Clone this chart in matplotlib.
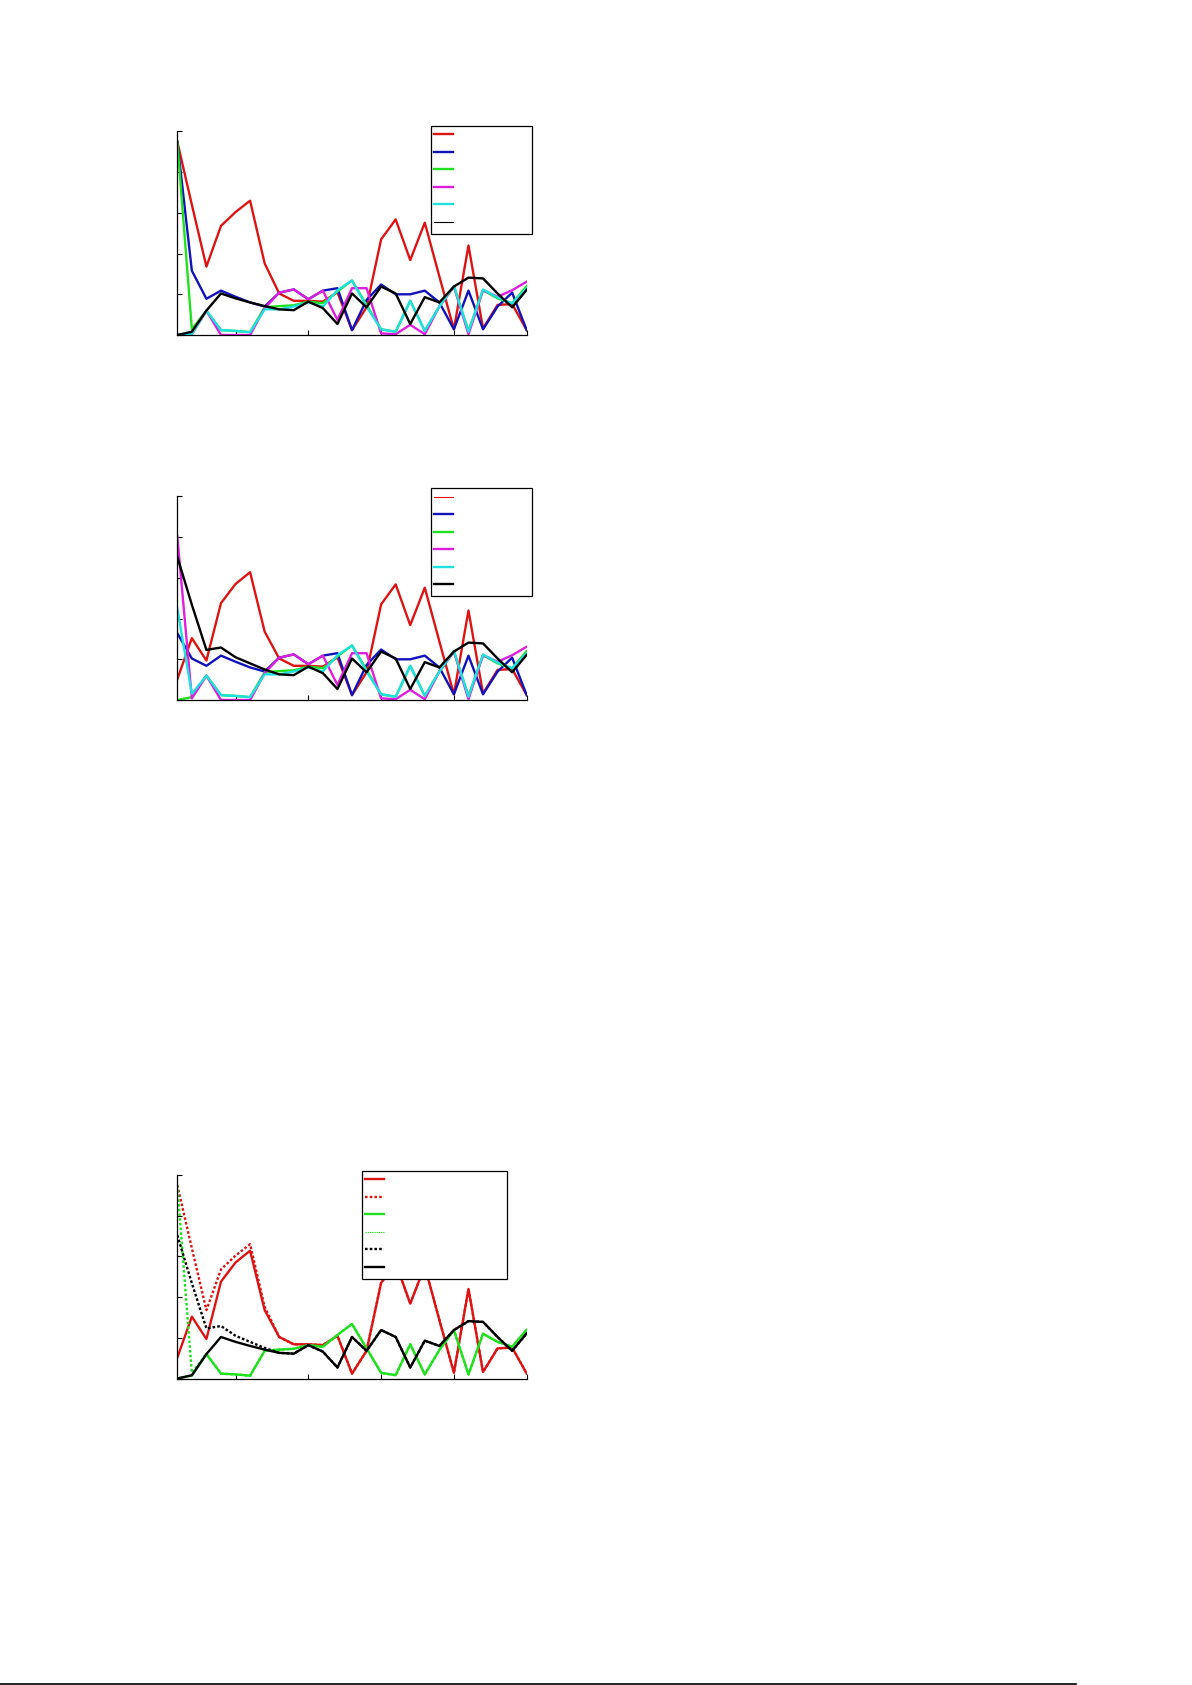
import numpy as np
import matplotlib
matplotlib.use("Agg")
import matplotlib.pyplot as plt
from matplotlib.lines import Line2D

x = np.arange(1, 26)

# panel 1 series
red_a = [4.75, 3.20, 1.68, 2.68, 3.02, 3.30, 1.76, 1.02, 0.84, 0.84, 0.82, 1.05, 0.12,
         0.68, 2.35, 2.84, 1.84, 2.76, 1.44, 0.14, 2.20, 0.16, 0.74, 0.76, 0.12]
blue_a = [4.75, 1.58, 0.89, 1.09, 0.94, 0.80, 0.70, 1.04, 1.12, 0.88, 1.09, 1.15, 0.12,
          0.86, 1.24, 1.00, 1.00, 1.09, 0.80, 0.14, 1.09, 0.14, 0.70, 1.04, 0.12]
green_a = [4.75, 0.14, 0.60, 0.12, 0.10, 0.07, 0.68, 0.71, 0.73, 0.82, 0.78, 1.07, 1.34,
           0.74, 0.14, 0.08, 0.84, 0.10, 0.70, 1.19, 0.10, 1.10, 0.90, 0.78, 1.20]
magenta_a = [0.00, 0.02, 0.60, 0.00, 0.00, 0.00, 0.66, 1.04, 1.12, 0.88, 1.09, 0.37, 1.15,
             1.15, 0.04, 0.02, 0.25, 0.02, 0.70, 1.19, 0.02, 1.10, 0.94, 1.10, 1.31]
cyan_a = [0.00, 0.02, 0.60, 0.12, 0.10, 0.07, 0.63, 0.63, 0.70, 0.80, 0.70, 1.10, 1.34,
          0.70, 0.14, 0.08, 0.84, 0.10, 0.70, 1.21, 0.08, 1.12, 0.92, 0.78, 1.15]
black_a = [0.00, 0.08, 0.60, 1.02, 0.90, 0.80, 0.71, 0.63, 0.61, 0.82, 0.66, 0.27, 1.02,
           0.68, 1.19, 1.02, 0.27, 0.93, 0.80, 1.19, 1.41, 1.39, 1.02, 0.68, 1.11]

# panel 2 series
red_b = [0.51, 1.52, 0.97, 2.38, 2.85, 3.14, 1.68, 1.02, 0.84, 0.84, 0.82, 1.05, 0.12,
         0.68, 2.35, 2.84, 1.84, 2.76, 1.44, 0.14, 2.20, 0.16, 0.74, 0.76, 0.12]
blue_b = [1.64, 1.02, 0.84, 1.09, 0.94, 0.80, 0.70, 1.04, 1.12, 0.88, 1.09, 1.15, 0.12,
          0.86, 1.24, 1.00, 1.00, 1.09, 0.80, 0.14, 1.09, 0.14, 0.70, 1.04, 0.12]
green_b = [0.00, 0.07, 0.60, 0.12, 0.10, 0.07, 0.68, 0.71, 0.73, 0.82, 0.78, 1.07, 1.34,
           0.74, 0.14, 0.08, 0.84, 0.10, 0.70, 1.19, 0.10, 1.10, 0.90, 0.78, 1.20]
magenta_b = [4.02, 0.04, 0.60, 0.00, 0.00, 0.00, 0.66, 1.04, 1.12, 0.88, 1.09, 0.37, 1.15,
             1.15, 0.04, 0.02, 0.25, 0.02, 0.70, 1.19, 0.02, 1.10, 0.94, 1.10, 1.31]
cyan_b = [2.25, 0.15, 0.60, 0.12, 0.10, 0.07, 0.63, 0.63, 0.70, 0.80, 0.70, 1.10, 1.34,
          0.70, 0.14, 0.08, 0.84, 0.10, 0.70, 1.21, 0.08, 1.12, 0.92, 0.78, 1.15]
black_b = [3.52, 2.34, 1.23, 1.29, 1.05, 0.90, 0.75, 0.63, 0.61, 0.82, 0.66, 0.27, 1.02,
           0.68, 1.19, 1.02, 0.27, 0.93, 0.80, 1.19, 1.41, 1.39, 1.02, 0.68, 1.11]

RED = "#dd1414"
BLUE = "#1212bb"
GREEN = "#20e020"
MAGENTA = "#dd20dd"
CYAN = "#20e0e0"
LW = 1.7
THIN = 0.8
DOT = (0, (1.1, 0.9))

fig = plt.figure(figsize=(11.92, 16.85), dpi=100)
W, H = 1192.0, 1685.0


def make_axes(top_px):
    ax = fig.add_axes([177.3 / W, 1 - (top_px + 203.5) / H, 349.4 / W, 203.5 / H])
    ax.set_xlim(1, 25)
    ax.set_ylim(0, 5)
    ax.set_xticks([5, 10, 15, 20, 25])
    ax.set_yticks([0, 1, 2, 3, 4, 5])
    ax.tick_params(direction="in", length=3.5, width=0.8, labelbottom=False, labelleft=False)
    ax.spines["top"].set_visible(False)
    ax.spines["right"].set_visible(False)
    for s in ("left", "bottom"):
        ax.spines[s].set_linewidth(0.9)
    return ax


def add_legend(ax, lines, box_px, handlelen=2.2):
    x0, y0, x1, y1 = box_px
    leg = ax.legend(lines, [""] * len(lines), loc="upper left",
                    bbox_to_anchor=(x0 / W, 1 - y1 / H, (x1 - x0) / W, (y1 - y0) / H),
                    bbox_transform=fig.transFigure, mode="expand", borderaxespad=0,
                    fontsize=6, handlelength=handlelen, handleheight=2.02,
                    labelspacing=0.55, borderpad=0.42, fancybox=False,
                    framealpha=1, edgecolor="black")
    leg.get_frame().set_linewidth(0.9)
    return leg


# panel 1
ax1 = make_axes(131.5)
l1 = [ax1.plot(x, red_a, color=RED, lw=LW)[0],
      ax1.plot(x, blue_a, color=BLUE, lw=LW)[0],
      ax1.plot(x, green_a, color=GREEN, lw=LW)[0],
      ax1.plot(x, magenta_a, color=MAGENTA, lw=LW)[0],
      ax1.plot(x, cyan_a, color=CYAN, lw=LW)[0],
      ax1.plot(x, black_a, color="black", lw=LW)[0]]
leg1 = add_legend(ax1, l1, (430.7, 126, 531.5, 234))
leg1.get_lines()[5].set_linewidth(THIN)

# panel 2
ax2 = make_axes(496.5)
l2 = [ax2.plot(x, red_b, color=RED, lw=LW)[0],
      ax2.plot(x, blue_b, color=BLUE, lw=LW)[0],
      ax2.plot(x, green_b, color=GREEN, lw=LW)[0],
      ax2.plot(x, magenta_b, color=MAGENTA, lw=LW)[0],
      ax2.plot(x, cyan_b, color=CYAN, lw=LW)[0],
      ax2.plot(x, black_b, color="black", lw=LW)[0]]
leg2 = add_legend(ax2, l2, (430.7, 488.5, 531.5, 597.3))
leg2.get_lines()[0].set_linewidth(THIN)

# panel 3
ax3 = make_axes(1175)
l3 = [ax3.plot(x, red_b, color=RED, lw=LW)[0],
      ax3.plot(x, red_a, color=RED, lw=LW, ls=DOT)[0],
      ax3.plot(x, green_b, color=GREEN, lw=LW)[0],
      ax3.plot(x, green_a, color=GREEN, lw=LW, ls=DOT)[0],
      ax3.plot(x, black_b, color="black", lw=LW, ls=DOT)[0],
      ax3.plot(x, black_a, color="black", lw=LW)[0]]
leg3 = add_legend(ax3, l3, (361.7, 1171, 507.3, 1276), handlelen=2.3)
leg3.get_lines()[3].set_linewidth(THIN)

# page rule at the bottom
fig.add_artist(Line2D([0, 1076 / W], [0.6 / H, 0.6 / H], color="black", lw=1.2))

fig.savefig("out.png", dpi=100)
